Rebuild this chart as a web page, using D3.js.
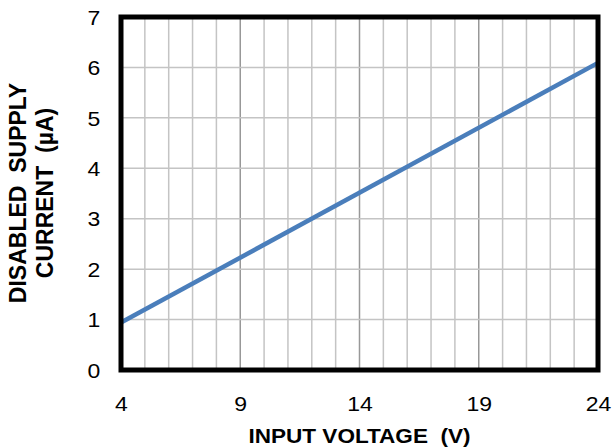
<!DOCTYPE html>
<html><head><meta charset="utf-8">
<script src="https://cdn.jsdelivr.net/npm/d3@7"></script>
<style>body{margin:0;background:#fff}svg{display:block}text{font-family:Arial,"Liberation Sans",sans-serif;white-space:pre}</style>
</head><body><svg id="c" width="613" height="448"></svg>
<script>
const voltage = [4, 24];
const current = [0.94, 6.09];
const xTicks = [4, 9, 14, 19, 24];
const yTicks = [0, 1, 2, 3, 4, 5, 6, 7];
const xTitle = "INPUT VOLTAGE  (V)";
const yTitle = ["DISABLED  SUPPLY", "CURRENT  (µA)"];

const svg = d3.select("#c");
const L = 121, R = 598, T = 17, B = 370;
const x = d3.scaleLinear().domain([4, 24]).range([L, R]);
const y = d3.scaleLinear().domain([0, 7]).range([B, T]);
const FF = "Arial, 'Liberation Sans', sans-serif";

const g = svg.append("g");
d3.range(5, 24).forEach(v => {
  g.append("line").attr("x1", x(v)).attr("x2", x(v)).attr("y1", T).attr("y2", B)
   .attr("stroke", (v - 4) % 5 === 0 ? "#989898" : "#c4c4c4").attr("stroke-width", 1.5);
});
yTicks.slice(1, -1).forEach(v => {
  g.append("line").attr("x1", L).attr("x2", R).attr("y1", y(v)).attr("y2", y(v))
   .attr("stroke", "#c4c4c4").attr("stroke-width", 1.5);
});

svg.append("path")
  .datum(voltage.map((v, i) => [v, current[i]]))
  .attr("d", d3.line().x(d => x(d[0])).y(d => y(d[1])))
  .attr("fill", "none").attr("stroke", "#4a7ebb").attr("stroke-width", 4.5);

svg.append("rect").attr("x", L).attr("y", T).attr("width", R - L).attr("height", B - T)
  .attr("fill", "none").attr("stroke", "#000").attr("stroke-width", 5);

const xa = svg.append("g").attr("transform", `translate(0,${B})`)
  .call(d3.axisBottom(x).tickValues(xTicks).tickSize(0).tickPadding(0).tickFormat(d3.format("d")));
xa.select(".domain").remove();
xa.selectAll("text").attr("font-size", 20).attr("fill", "#000").style("font-family", FF)
  .attr("dy", null).attr("y", 41).attr("transform", "scale(1.15,1)");

const ya = svg.append("g").attr("transform", `translate(${L},0)`)
  .call(d3.axisLeft(y).tickValues(yTicks).tickSize(0).tickPadding(18).tickFormat(d3.format("d")));
ya.select(".domain").remove();
ya.selectAll("text").attr("font-size", 20).attr("fill", "#000").style("font-family", FF)
  .attr("dy", "0.36em").attr("transform", "scale(1.15,1)");

svg.append("text").attr("transform", `translate(${(L + R) / 2},443) scale(1.1,1)`)
  .attr("text-anchor", "middle").attr("xml:space", "preserve")
  .attr("font-size", 20.5).attr("font-weight", "bold").text(xTitle);

yTitle.forEach((t, i) => {
  svg.append("text").attr("transform", `translate(${26 + i * 27},193) rotate(-90)`)
    .attr("text-anchor", "middle").attr("font-size", 23).attr("font-weight", "bold")
    .attr("xml:space", "preserve").text(t);
});
</script></body></html>
